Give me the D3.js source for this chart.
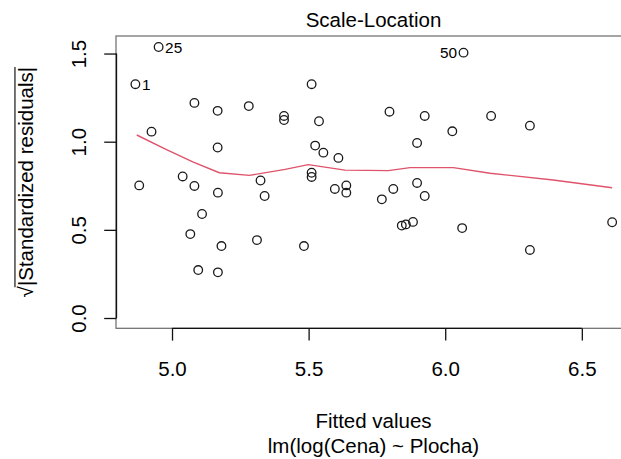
<!DOCTYPE html>
<html>
<head>
<meta charset="utf-8">
<script src="https://cdn.jsdelivr.net/npm/d3@7"></script>
<style>
  html, body { margin: 0; padding: 0; background: #fff; }
  svg { display: block; }
  text { font-family: "Liberation Sans", Arial, Helvetica, sans-serif; fill: #000; }
</style>
</head>
<body>
<svg id="chart" width="621" height="459"></svg>
<script>
// ---- data ----
const fitted = [4.866, 4.951, 4.925, 4.880, 5.082, 5.039, 5.082, 5.167, 5.167, 5.168,
                5.110, 5.067, 5.096, 5.168, 5.181, 5.281, 5.324, 5.339, 5.311, 5.410,
                5.410, 5.483, 5.511, 5.538, 5.511, 5.511, 5.524, 5.554, 5.609, 5.596,
                5.638, 5.638, 5.768, 5.796, 5.810, 5.897, 5.897, 5.925, 5.925, 5.841,
                5.856, 5.882, 6.026, 6.062, 6.067, 6.168, 6.310, 6.310, 6.611];
const sqrtStdResid = [1.326, 1.537, 1.057, 0.752, 1.220, 0.803, 0.749, 1.175, 0.967, 0.711,
                      0.590, 0.476, 0.272, 0.259, 0.408, 1.202, 0.780, 0.692, 0.442, 1.146,
                      1.123, 0.408, 1.326, 1.116, 0.824, 0.800, 0.978, 0.938, 0.908, 0.732,
                      0.752, 0.711, 0.673, 1.170, 0.732, 0.993, 0.766, 1.146, 0.692, 0.524,
                      0.531, 0.545, 1.059, 0.510, 1.505, 1.146, 1.091, 0.386, 0.543];
// labelled (most extreme) observations: index into arrays, label text, side
const idIndex = [0, 1, 44];
const idLabel = ["1", "25", "50"];
const idSide  = ["right", "right", "left"];
// smoother (red line)
const smoothX = [4.871, 4.978, 5.076, 5.173, 5.283, 5.414, 5.499, 5.633, 5.792, 5.871, 6.030, 6.164, 6.395, 6.611];
const smoothY = [1.038, 0.957, 0.885, 0.824, 0.809, 0.843, 0.870, 0.839, 0.836, 0.853, 0.853, 0.821, 0.783, 0.739];
const xTicks = [5.0, 5.5, 6.0, 6.5];
const yTicks = [0.0, 0.5, 1.0, 1.5];
const title = "Scale-Location";
const xTitle = "Fitted values";
const subTitle = "lm(log(Cena) ~ Plocha)";
const yTitle = "|Standardized residuals|";

// ---- layout ----
const plot = { left: 116, right: 631, top: 36, bottom: 328.3 };
const fs = 20.5;
const tickLen = 12.3;

const svg = d3.select("#chart");
const x = d3.scaleLinear().domain([4.795, 6.68]).range([plot.left, plot.right]);
const y = d3.scaleLinear().domain([-0.0584, 1.5995]).range([plot.bottom, plot.top]);

// box
svg.append("rect")
  .attr("x", plot.left).attr("y", plot.top)
  .attr("width", plot.right - plot.left).attr("height", plot.bottom - plot.top)
  .attr("fill", "none").attr("stroke", "#6a6a6a").attr("stroke-width", 1.2);

// x axis
const gx = svg.append("g").attr("transform", `translate(0,${plot.bottom})`)
  .call(d3.axisBottom(x).tickValues(xTicks).tickFormat(d3.format(".1f")).tickSize(tickLen));
gx.select(".domain").remove();
gx.append("line").attr("x1", x(xTicks[0])).attr("x2", x(xTicks[xTicks.length - 1]))
  .attr("y1", 0).attr("y2", 0).attr("stroke", "#111").attr("stroke-width", 1.3);
gx.selectAll(".tick line").attr("stroke", "#111").attr("stroke-width", 1.3);
gx.selectAll(".tick text").attr("y", 48).attr("dy", null)
  .style("font-size", fs + "px").style("font-family", null).attr("fill", "#000");

// y axis
const gy = svg.append("g").attr("transform", `translate(${plot.left + 0.5},0)`)
  .call(d3.axisLeft(y).tickValues(yTicks).tickFormat(d3.format(".1f")).tickSize(tickLen));
gy.select(".domain").remove();
gy.append("line").attr("y1", y(yTicks[0])).attr("y2", y(yTicks[yTicks.length - 1]))
  .attr("x1", 0).attr("x2", 0).attr("stroke", "#111").attr("stroke-width", 1.3);
gy.selectAll(".tick line").attr("stroke", "#111").attr("stroke-width", 1.3);
gy.selectAll(".tick text")
  .attr("transform", "rotate(-90)")
  .attr("x", 0).attr("y", -30.2).attr("dy", null)
  .attr("text-anchor", "middle")
  .style("font-size", fs + "px").style("font-family", null).attr("fill", "#000");
gy.attr("font-family", null).attr("font-size", null);
gx.attr("font-family", null).attr("font-size", null);

// smoother
const line = d3.line().x((d, i) => x(d)).y((d, i) => y(smoothY[i]));
svg.append("path").datum(smoothX)
  .attr("d", line).attr("fill", "none")
  .attr("stroke", "#DF536B").attr("stroke-width", 1.4);

// points
svg.append("g").selectAll("circle").data(fitted).join("circle")
  .attr("cx", d => x(d)).attr("cy", (d, i) => y(sqrtStdResid[i]))
  .attr("r", 4.3).attr("fill", "none").attr("stroke", "#1a1a1a").attr("stroke-width", 1.3);

// id labels
svg.append("g").selectAll("text").data(idIndex).join("text")
  .attr("x", (d, i) => x(fitted[d]) + (idSide[i] === "right" ? 6.5 : -6.5))
  .attr("y", d => y(sqrtStdResid[d]))
  .attr("dy", "0.36em")
  .attr("text-anchor", (d, i) => idSide[i] === "right" ? "start" : "end")
  .style("font-size", (fs * 0.75) + "px")
  .text((d, i) => idLabel[i]);

// title
svg.append("text").attr("x", (plot.left + plot.right) / 2).attr("y", 26.7)
  .attr("text-anchor", "middle").style("font-size", fs + "px").text(title);

// x titles
svg.append("text").attr("x", (plot.left + plot.right) / 2).attr("y", 427.5)
  .attr("text-anchor", "middle").style("font-size", fs + "px").text(xTitle);
svg.append("text").attr("x", (plot.left + plot.right) / 2).attr("y", 453)
  .attr("text-anchor", "middle").style("font-size", fs + "px").text(subTitle);

// y title with radical sign
const cy = (plot.top + plot.bottom) / 2;
const yt = svg.append("g").attr("transform", `translate(33,${cy}) rotate(-90)`);
const ytext = yt.append("text").attr("x", 0).attr("y", 0).attr("text-anchor", "middle")
  .style("font-size", fs + "px");
ytext.append("tspan").text("\u221A");
ytext.append("tspan").text(yTitle);
const node = ytext.node();
const L = node.getComputedTextLength();
const w1 = node.getSubStringLength(0, 1);
const start = -L / 2;
yt.append("line")
  .attr("x1", start + w1 * 0.9).attr("x2", start + L)
  .attr("y1", -fs * 0.88).attr("y2", -fs * 0.88)
  .attr("stroke", "#000").attr("stroke-width", 1.1);
</script>
</body>
</html>
